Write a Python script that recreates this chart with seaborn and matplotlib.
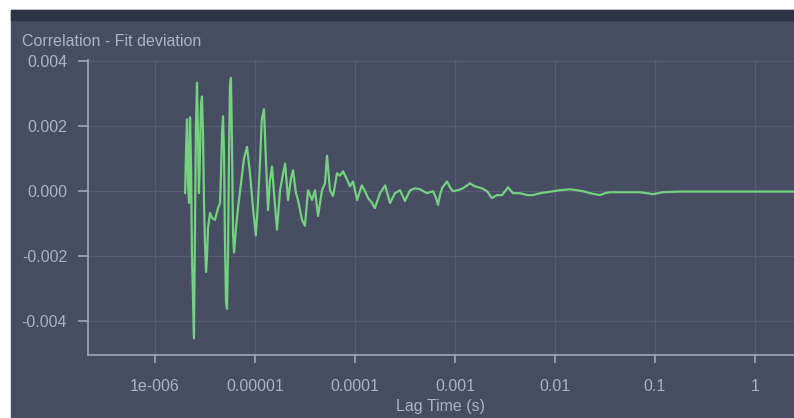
import numpy as np
import pandas as pd
import seaborn as sns
import matplotlib.pyplot as plt
from matplotlib.patches import Rectangle
from matplotlib.ticker import FixedLocator, FuncFormatter, NullLocator

# lag times (s) and fit deviation (units of 1e-3)
lag_time = [
    2.00e-6, 2.04e-6, 2.09e-6, 2.14e-6, 2.19e-6, 2.24e-6, 2.29e-6, 2.34e-6,
    2.40e-6, 2.45e-6, 2.51e-6, 2.57e-6, 2.63e-6, 2.69e-6, 2.75e-6, 2.82e-6,
    2.88e-6, 2.95e-6, 3.02e-6, 3.09e-6, 3.16e-6, 3.24e-6, 3.31e-6, 3.39e-6,
    3.55e-6, 3.72e-6, 3.98e-6, 4.27e-6, 4.47e-6, 4.57e-6, 4.68e-6, 4.79e-6,
    4.90e-6, 5.01e-6, 5.13e-6, 5.25e-6, 5.37e-6, 5.50e-6, 5.62e-6, 5.75e-6,
    5.89e-6, 6.03e-6, 6.17e-6, 6.46e-6, 6.76e-6, 7.24e-6, 7.76e-6, 8.32e-6,
    8.91e-6, 9.55e-6, 1.02e-5, 1.07e-5, 1.12e-5, 1.17e-5, 1.23e-5, 1.29e-5,
    1.35e-5, 1.41e-5, 1.48e-5, 1.55e-5, 1.66e-5, 1.78e-5, 1.91e-5, 2.00e-5,
    2.14e-5, 2.29e-5, 2.40e-5, 2.57e-5, 2.69e-5, 2.95e-5, 3.16e-5, 3.39e-5,
    3.72e-5, 3.98e-5, 4.27e-5, 4.68e-5, 5.01e-5, 5.25e-5, 5.62e-5, 6.03e-5,
    6.61e-5, 7.08e-5, 7.59e-5, 8.32e-5, 8.91e-5, 9.55e-5, 1.05e-4, 1.17e-4,
    1.26e-4, 1.35e-4, 1.48e-4, 1.58e-4, 1.78e-4, 2.00e-4, 2.24e-4, 2.51e-4,
    2.82e-4, 3.16e-4, 3.55e-4, 3.98e-4, 4.47e-4, 5.25e-4, 6.03e-4, 6.46e-4,
    6.76e-4, 7.08e-4, 7.41e-4, 8.32e-4, 8.91e-4, 9.55e-4, 1.07e-3, 1.20e-3,
    1.41e-3, 1.58e-3, 1.86e-3, 2.09e-3, 2.34e-3, 2.63e-3, 2.95e-3, 3.16e-3,
    3.39e-3, 3.80e-3, 4.47e-3, 5.25e-3, 6.03e-3, 7.08e-3, 8.32e-3, 9.55e-3,
    1.12e-2, 1.41e-2, 1.66e-2, 1.91e-2, 2.24e-2, 2.82e-2, 3.16e-2, 3.55e-2,
    4.47e-2, 5.62e-2, 7.08e-2, 9.55e-2, 0.120, 0.178, 0.282, 0.447,
    0.708, 1.12, 1.78, 2.45,
]
fit_dev_milli = [
    -0.06, 1.15, 2.21, 0.24, -0.36, 2.27, 0.85, -1.88,
    -3.39, -4.52, -1.27, 2.06, 3.33, 1.76, -0.06, 1.15,
    2.67, 2.91, 1.76, -0.36, -1.58, -2.48, -2.03, -1.12,
    -0.67, -0.82, -0.88, -0.52, -0.36, 0.55, 1.76, 2.30,
    1.15, -1.58, -3.39, -3.61, -1.88, 1.15, 3.27, 3.48,
    1.45, -1.27, -1.88, -1.12, -0.52, 0.24, 1.00, 1.36,
    0.55, -0.52, -1.36, -0.36, 0.85, 2.21, 2.52, 0.85,
    -0.58, 0.33, 0.76, -0.06, -1.18, 0.03, 0.55, 0.85,
    -0.27, 0.39, 0.64, -0.06, -0.27, -0.88, -1.06, 0.03,
    -0.27, 0.03, -0.76, 0.03, 0.24, 1.09, 0.03, -0.15,
    0.55, 0.48, 0.61, 0.36, 0.15, 0.30, -0.27, 0.18,
    0.00, -0.21, -0.36, -0.52, -0.06, 0.18, -0.36, -0.06,
    0.03, -0.30, 0.03, 0.09, 0.06, -0.06, 0.00, -0.21,
    -0.42, -0.12, 0.09, 0.30, 0.12, 0.00, 0.03, 0.09,
    0.24, 0.15, 0.09, 0.00, -0.21, -0.12, -0.12, 0.00,
    0.12, -0.06, -0.06, -0.12, -0.12, -0.06, -0.03, 0.00,
    0.03, 0.06, 0.03, 0.00, -0.06, -0.12, -0.06, -0.03,
    -0.03, -0.03, -0.03, -0.09, -0.03, -0.01, -0.01, -0.01,
    -0.01, -0.01, -0.01, -0.01,
]

x_ticks = [1e-6, 1e-5, 1e-4, 1e-3, 1e-2, 1e-1, 1.0]
x_tick_labels = ["1e-006", "0.00001", "0.0001", "0.001", "0.01", "0.1", "1"]
y_ticks = [-0.004, -0.002, 0.0, 0.002, 0.004]

BG = "#474d62"
BAND = "#2d3445"
TEXT = "#aeb3c1"
SPINE = "#a3a8b6"
GRID = "#565c71"
LINE = "#74d17f"

df = pd.DataFrame({
    "lag": lag_time,
    "dev": np.array(fit_dev_milli) * 1e-3,
})

sns.set_theme(style="dark")
plt.rcParams["font.family"] = ["Liberation Sans", "DejaVu Sans"]

W, H = 794, 418
fig = plt.figure(figsize=(W / 100, H / 100), dpi=100, facecolor="white")

# panel background and dark header strip, kept behind the axes
fig.patches.append(Rectangle((11 / W, 0), 1 - 11 / W, 1 - 10 / H,
                             transform=fig.transFigure, color=BG, zorder=-10))
fig.patches.append(Rectangle((11 / W, 1 - 20 / H), 1 - 11 / W, 10 / H,
                             transform=fig.transFigure, color=BAND, zorder=-9))

ax = fig.add_axes([88 / W, (H - 355) / H, 1 - 88 / W, (355 - 60) / H])
ax.set_facecolor("none")
ax.set_zorder(2)

sns.lineplot(data=df, x="lag", y="dev", estimator=None, sort=False,
             color=LINE, linewidth=1.6, ax=ax)

ax.set_xscale("log")
ax.set_xlim(10 ** -6.67, 10 ** 0.39)
ax.set_ylim(-0.00503, 0.00403)

ax.xaxis.set_major_locator(FixedLocator(x_ticks))
ax.xaxis.set_minor_locator(NullLocator())
ax.set_xticklabels(x_tick_labels)
ax.yaxis.set_major_locator(FixedLocator(y_ticks))
ax.yaxis.set_major_formatter(FuncFormatter(lambda v, p: f"{v:.3f}"))

ax.grid(True, color=GRID, linewidth=0.9)
for side in ["top", "right"]:
    ax.spines[side].set_visible(False)
for side in ["left", "bottom"]:
    ax.spines[side].set_visible(True)
    ax.spines[side].set_color(SPINE)
    ax.spines[side].set_linewidth(1.2)

ax.tick_params(axis="y", which="major", direction="out", length=7, width=1.2,
               color=SPINE, labelcolor=TEXT, labelsize=11.5, pad=8, left=True)
ax.tick_params(axis="x", which="major", direction="out", length=6, width=1.2,
               color=SPINE, labelcolor=TEXT, labelsize=11.5, pad=11, bottom=True)

ax.set_xlabel("Lag Time (s)", color=TEXT, fontsize=11.5, labelpad=4)
ax.set_ylabel("")

fig.text(22 / W, 1 - 41 / H, "Correlation - Fit deviation", color=TEXT,
         fontsize=11.5, ha="left", va="center")

fig.savefig("out.png", dpi=100, facecolor=fig.get_facecolor())
